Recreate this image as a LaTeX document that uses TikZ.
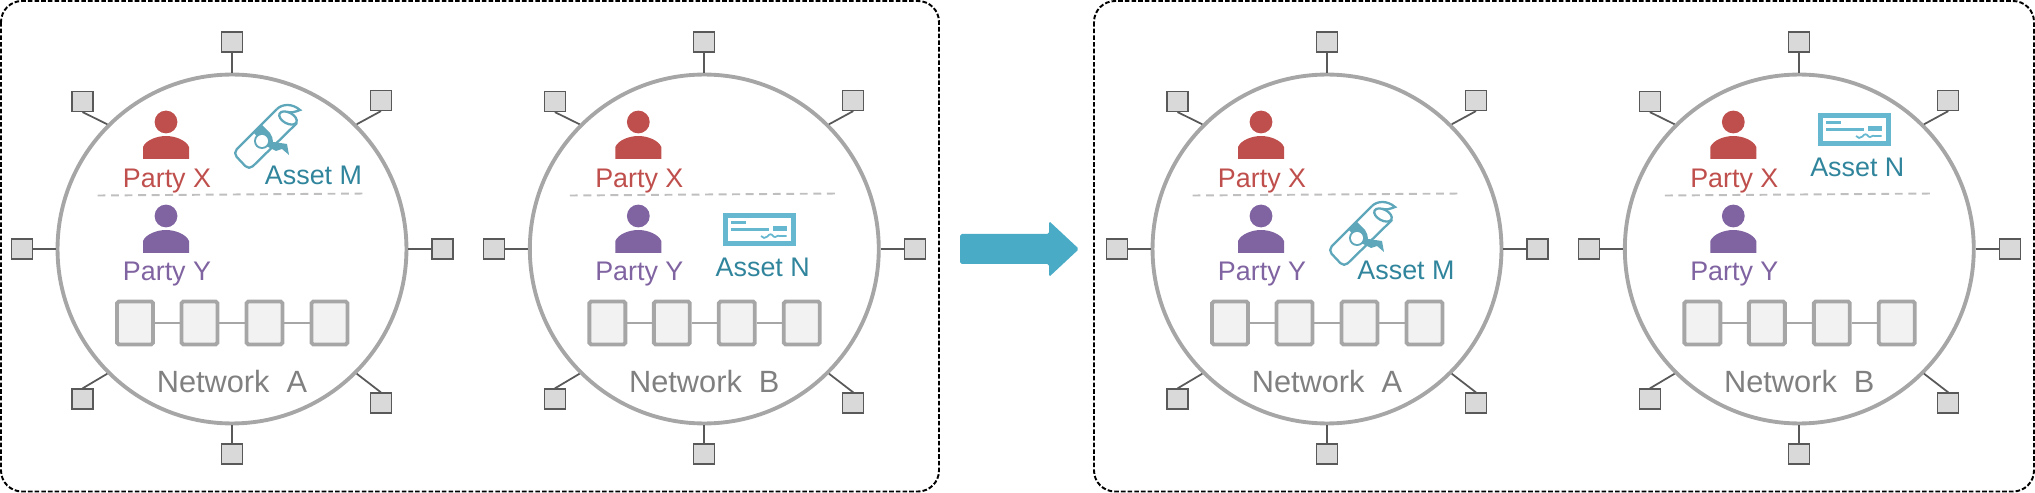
\documentclass[tikz,border=0pt]{standalone}
\usepackage{fontspec}
\setmainfont{Liberation Sans}
\usepackage {tikz}
\usetikzlibrary {positioning}
\definecolor{indianred}{rgb}{0.75, 0.31, 0.30}
\definecolor{royalpurple}{rgb}{0.50, 0.39, 0.63}
\definecolor{deepteal}{rgb}{0.19, 0.52, 0.61}
\definecolor{scrollblue}{rgb}{0.37, 0.65, 0.73}
\definecolor{chequeblue}{rgb}{0.40, 0.72, 0.82}
\definecolor{arrowblue}{rgb}{0.29, 0.67, 0.78}
\definecolor{ringgray}{rgb}{0.65, 0.65, 0.65}
\definecolor{spokegray}{rgb}{0.35, 0.35, 0.35}
\definecolor{portgray}{rgb}{0.85, 0.85, 0.85}
\definecolor{blockgray}{rgb}{0.95, 0.95, 0.95}
\definecolor{cutgray}{rgb}{0.75, 0.75, 0.75}
\definecolor{labelgray}{rgb}{0.50, 0.50, 0.50}
\tikzset{
	ring/.style={circle, draw=ringgray, line width=2.2pt, minimum size=6.98cm, inner sep=0pt},
	port/.style={rectangle, fill=portgray, draw=spokegray, line width=0.65pt, minimum width=0.42cm, minimum height=0.4cm, inner sep=0pt},
	spoke/.style={draw=spokegray, line width=1pt},
	block/.style={rectangle, rounded corners=1pt, fill=blockgray, draw=ringgray, line width=2.2pt, minimum width=0.72cm, minimum height=0.86cm, inner sep=0pt},
	chain/.style={draw=ringgray, line width=0.8pt},
	cut/.style={draw=cutgray, line width=1.1pt, dash pattern=on 4.5pt off 3.2pt},
	frame/.style={draw=black, line width=1.1pt, rounded corners=0.42cm, dash pattern=on 2.6pt off 1.2pt},
	netlabel/.style={text=labelgray, font=\fontsize{17.5}{20}\selectfont, inner sep=0pt},
	partyx/.style={text=indianred, font=\fontsize{15.3}{18}\selectfont, inner sep=0pt},
	partyy/.style={text=royalpurple, font=\fontsize{15.3}{18}\selectfont, inner sep=0pt},
	assetlabel/.style={text=deepteal, font=\fontsize{15.3}{18}\selectfont, inner sep=0pt},
	pics/person/.style={code={
		\fill[#1] (0,-37) circle (11.4);
		\fill[#1] (-23,0) -- (-23,-12) .. controls (-20,-19) and (-9,-23) .. (0,-23) .. controls (9,-23) and (20,-19) .. (23,-12) -- (23,0) -- cycle;
	}},
	pics/scroll/.style={code={
		\fill[scrollblue] (-12,-8) -- (-3,-15) -- (5,-7) .. controls (7,-4) and (8,-1) .. (8,2) -- (22,4) -- (24,15) -- (17,9) -- (11,11) -- (3,7) -- (-3,2) -- cycle;
		\fill[scrollblue] (-3,1) circle (8);
		\fill[white] (-3,1) circle (6);
		\draw[scrollblue, line width=1.3pt, rounded corners=3pt, line join=round] (12,-31) -- (-32,13) -- (-16,30) -- (32,-17);
		\draw[scrollblue, line width=1.3pt] (12,-31) .. controls (17,-36) and (27,-37) .. (35,-30) .. controls (30,-28) and (26,-27) .. (23,-28);
		\draw[scrollblue, line width=1.3pt] (23,-22) ellipse [x radius=9.5, y radius=5.5, rotate=-28];
	}},
	pics/cheque/.style={code={
		\draw[chequeblue, line width=2.8pt] (-33.7,-13.7) rectangle (33.7,13.7);
		\fill[chequeblue] (-28.2,-8.5) rectangle (-13.5,-5.5);
		\fill[chequeblue] (-28.2,-1.5) rectangle (9.8,1.2);
		\fill[chequeblue] (13.2,-3.5) rectangle (27.8,1.5);
		\draw[chequeblue, line width=1pt] (1.5,6.5) .. controls (3,9) and (6,9) .. (8,7) .. controls (10,4) and (12,4) .. (14,7) .. controls (16,9) and (18,5) .. (20,6.5) -- (27,6.5);
	}}
}
\begin{document}
\begin{tikzpicture}[x=0.02cm, y=-0.02cm, node distance = 2cm and 2cm, on grid]
	\useasboundingbox (0,0) rectangle (2035,493);
	\draw[frame] (1,1) rectangle (939,491.5);
	\draw[frame] (1094,1) rectangle (2034,491.5);
	\fill[arrowblue, rounded corners=1pt] (960,234) -- (1049,234) -- (1049,221) -- (1079,249) -- (1049,277) -- (1049,264) -- (960,264) -- cycle;

	% Network A, before the transfer
	\node [ring] (RINGA) at (232,249) {};
	\node [port] (NA) [above=4.14cm of RINGA] {};
	\node [port] (SA) [below=4.1cm of RINGA] {};
	\node [port] (WA) [left=4.2cm of RINGA] {};
	\node [port] (EA) [right=4.21cm of RINGA] {};
	\node [port] (NWA) [above left=2.95cm and 2.99cm of RINGA] {};
	\node [port] (NEA) [above right=2.97cm and 2.98cm of RINGA] {};
	\node [port] (SWA) [below left=3cm and 2.99cm of RINGA] {};
	\node [port] (SEA) [below right=3.08cm and 2.98cm of RINGA] {};
	\path (RINGA.90) edge[spoke] (NA);
	\path (RINGA.270) edge[spoke] (SA);
	\path (RINGA.180) edge[spoke] (WA);
	\path (RINGA.0) edge[spoke] (EA);
	\path (RINGA.135) edge[spoke] (NWA.south);
	\path (RINGA.45) edge[spoke] (NEA.south);
	\path (RINGA.225) edge[spoke] (SWA.north);
	\path (RINGA.315) edge[spoke] (SEA.north);
	\node [block] (B1A) [below left=1.48cm and 1.94cm of RINGA] {};
	\node [block] (B2A) [right=1.29cm of B1A] {};
	\node [block] (B3A) [right=1.3cm of B2A] {};
	\node [block] (B4A) [right=1.3cm of B3A] {};
	\path (B1A) edge[chain] (B2A);
	\path (B2A) edge[chain] (B3A);
	\path (B3A) edge[chain] (B4A);
	\node [netlabel, below=2.88cm of RINGA, anchor=base] (NETA) {Network~~A};
	\coordinate [above left=1.07cm and 2.69cm of RINGA] (CUTWA);
	\coordinate [above right=1.11cm and 2.63cm of RINGA] (CUTEA);
	\path (CUTWA) edge[cut] (CUTEA);
	\pic at ([shift={(-66,-90)}]RINGA.center) {person=indianred};
	\pic at ([shift={(-66,4)}]RINGA.center) {person=royalpurple};
	\node [partyx, above left=1.23cm and 1.3cm of RINGA, anchor=base] (PXA) {Party X};
	\node [partyy, below left=0.63cm and 1.3cm of RINGA, anchor=base] (PYA) {Party Y};
	\pic at ([shift={(33,-109)}]RINGA.center) {scroll};
	\node [assetlabel, above right=1.29cm and 1.63cm of RINGA, anchor=base] (AMA) {Asset M};

	% Network B, before the transfer
	\node [ring] (RINGB) at (704.3,249) {};
	\node [port] (NB) [above=4.14cm of RINGB] {};
	\node [port] (SB) [below=4.1cm of RINGB] {};
	\node [port] (WB) [left=4.2cm of RINGB] {};
	\node [port] (EB) [right=4.21cm of RINGB] {};
	\node [port] (NWB) [above left=2.95cm and 2.99cm of RINGB] {};
	\node [port] (NEB) [above right=2.97cm and 2.98cm of RINGB] {};
	\node [port] (SWB) [below left=3cm and 2.99cm of RINGB] {};
	\node [port] (SEB) [below right=3.08cm and 2.98cm of RINGB] {};
	\path (RINGB.90) edge[spoke] (NB);
	\path (RINGB.270) edge[spoke] (SB);
	\path (RINGB.180) edge[spoke] (WB);
	\path (RINGB.0) edge[spoke] (EB);
	\path (RINGB.135) edge[spoke] (NWB.south);
	\path (RINGB.45) edge[spoke] (NEB.south);
	\path (RINGB.225) edge[spoke] (SWB.north);
	\path (RINGB.315) edge[spoke] (SEB.north);
	\node [block] (B1B) [below left=1.48cm and 1.94cm of RINGB] {};
	\node [block] (B2B) [right=1.29cm of B1B] {};
	\node [block] (B3B) [right=1.3cm of B2B] {};
	\node [block] (B4B) [right=1.3cm of B3B] {};
	\path (B1B) edge[chain] (B2B);
	\path (B2B) edge[chain] (B3B);
	\path (B3B) edge[chain] (B4B);
	\node [netlabel, below=2.88cm of RINGB, anchor=base] (NETB) {Network~~B};
	\coordinate [above left=1.07cm and 2.69cm of RINGB] (CUTWB);
	\coordinate [above right=1.11cm and 2.63cm of RINGB] (CUTEB);
	\path (CUTWB) edge[cut] (CUTEB);
	\pic at ([shift={(-66,-90)}]RINGB.center) {person=indianred};
	\pic at ([shift={(-66,4)}]RINGB.center) {person=royalpurple};
	\node [partyx, above left=1.23cm and 1.3cm of RINGB, anchor=base] (PXB) {Party X};
	\node [partyy, below left=0.63cm and 1.3cm of RINGB, anchor=base] (PYB) {Party Y};
	\pic at ([shift={(55.2,-19.5)}]RINGB.center) {cheque};
	\node [assetlabel, below right=0.56cm and 1.17cm of RINGB, anchor=base] (ANB) {Asset N};

	% Network A, after the transfer
	\node [ring] (RINGC) at (1327,249) {};
	\node [port] (NC) [above=4.14cm of RINGC] {};
	\node [port] (SC) [below=4.1cm of RINGC] {};
	\node [port] (WC) [left=4.2cm of RINGC] {};
	\node [port] (EC) [right=4.21cm of RINGC] {};
	\node [port] (NWC) [above left=2.95cm and 2.99cm of RINGC] {};
	\node [port] (NEC) [above right=2.97cm and 2.98cm of RINGC] {};
	\node [port] (SWC) [below left=3cm and 2.99cm of RINGC] {};
	\node [port] (SEC) [below right=3.08cm and 2.98cm of RINGC] {};
	\path (RINGC.90) edge[spoke] (NC);
	\path (RINGC.270) edge[spoke] (SC);
	\path (RINGC.180) edge[spoke] (WC);
	\path (RINGC.0) edge[spoke] (EC);
	\path (RINGC.135) edge[spoke] (NWC.south);
	\path (RINGC.45) edge[spoke] (NEC.south);
	\path (RINGC.225) edge[spoke] (SWC.north);
	\path (RINGC.315) edge[spoke] (SEC.north);
	\node [block] (B1C) [below left=1.48cm and 1.94cm of RINGC] {};
	\node [block] (B2C) [right=1.29cm of B1C] {};
	\node [block] (B3C) [right=1.3cm of B2C] {};
	\node [block] (B4C) [right=1.3cm of B3C] {};
	\path (B1C) edge[chain] (B2C);
	\path (B2C) edge[chain] (B3C);
	\path (B3C) edge[chain] (B4C);
	\node [netlabel, below=2.88cm of RINGC, anchor=base] (NETC) {Network~~A};
	\coordinate [above left=1.07cm and 2.69cm of RINGC] (CUTWC);
	\coordinate [above right=1.11cm and 2.63cm of RINGC] (CUTEC);
	\path (CUTWC) edge[cut] (CUTEC);
	\pic at ([shift={(-66,-90)}]RINGC.center) {person=indianred};
	\pic at ([shift={(-66,4)}]RINGC.center) {person=royalpurple};
	\node [partyx, above left=1.23cm and 1.3cm of RINGC, anchor=base] (PXC) {Party X};
	\node [partyy, below left=0.63cm and 1.3cm of RINGC, anchor=base] (PYC) {Party Y};
	\pic at ([shift={(33,-12)}]RINGC.center) {scroll};
	\node [assetlabel, below right=0.62cm and 1.58cm of RINGC, anchor=base] (AMC) {Asset M};

	% Network B, after the transfer
	\node [ring] (RINGD) at (1799.3,249) {};
	\node [port] (ND) [above=4.14cm of RINGD] {};
	\node [port] (SD) [below=4.1cm of RINGD] {};
	\node [port] (WD) [left=4.2cm of RINGD] {};
	\node [port] (ED) [right=4.21cm of RINGD] {};
	\node [port] (NWD) [above left=2.95cm and 2.99cm of RINGD] {};
	\node [port] (NED) [above right=2.97cm and 2.98cm of RINGD] {};
	\node [port] (SWD) [below left=3cm and 2.99cm of RINGD] {};
	\node [port] (SED) [below right=3.08cm and 2.98cm of RINGD] {};
	\path (RINGD.90) edge[spoke] (ND);
	\path (RINGD.270) edge[spoke] (SD);
	\path (RINGD.180) edge[spoke] (WD);
	\path (RINGD.0) edge[spoke] (ED);
	\path (RINGD.135) edge[spoke] (NWD.south);
	\path (RINGD.45) edge[spoke] (NED.south);
	\path (RINGD.225) edge[spoke] (SWD.north);
	\path (RINGD.315) edge[spoke] (SED.north);
	\node [block] (B1D) [below left=1.48cm and 1.94cm of RINGD] {};
	\node [block] (B2D) [right=1.29cm of B1D] {};
	\node [block] (B3D) [right=1.3cm of B2D] {};
	\node [block] (B4D) [right=1.3cm of B3D] {};
	\path (B1D) edge[chain] (B2D);
	\path (B2D) edge[chain] (B3D);
	\path (B3D) edge[chain] (B4D);
	\node [netlabel, below=2.88cm of RINGD, anchor=base] (NETD) {Network~~B};
	\coordinate [above left=1.07cm and 2.69cm of RINGD] (CUTWD);
	\coordinate [above right=1.11cm and 2.63cm of RINGD] (CUTED);
	\path (CUTWD) edge[cut] (CUTED);
	\pic at ([shift={(-66,-90)}]RINGD.center) {person=indianred};
	\pic at ([shift={(-66,4)}]RINGD.center) {person=royalpurple};
	\node [partyx, above left=1.23cm and 1.3cm of RINGD, anchor=base] (PXD) {Party X};
	\node [partyy, below left=0.63cm and 1.3cm of RINGD, anchor=base] (PYD) {Party Y};
	\pic at ([shift={(55.2,-119.5)}]RINGD.center) {cheque};
	\node [assetlabel, above right=1.46cm and 1.16cm of RINGD, anchor=base] (AND) {Asset N};
\end{tikzpicture}
\end{document}
